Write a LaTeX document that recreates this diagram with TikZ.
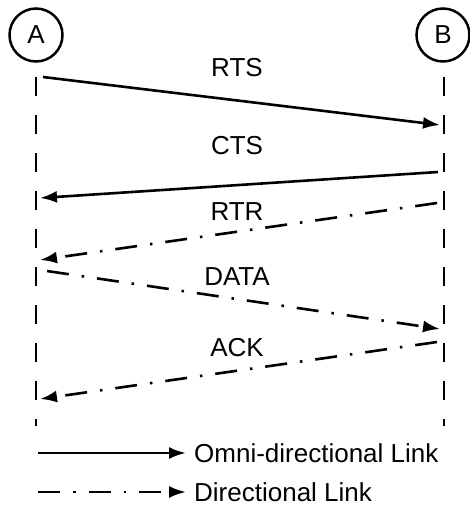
\documentclass[tikz,border=0pt]{standalone}
\usepackage{fontspec}
\setmainfont{Liberation Sans}
\usetikzlibrary{arrows.meta}
\begin{document}
\begin{tikzpicture}[x=1pt,y=-1pt,
  station/.style={draw,circle,line width=2.5pt,minimum size=53pt,inner sep=0pt,font=\fontsize{26}{26}\selectfont},
  lifeline/.style={line width=2.6pt,dash pattern=on 19pt off 19pt},
  omni/.style={line width=2.6pt,-{Latex[length=17pt,width=12pt]}},
  directional/.style={line width=2.6pt,-{Latex[length=17pt,width=12pt]},
    dash pattern=on 22pt off 13pt on 2.5pt off 13pt},
  msg/.style={font=\fontsize{26}{26}\selectfont,inner sep=0pt},
  legend/.style={font=\fontsize{26}{26}\selectfont,anchor=west,inner sep=0pt}]
  \useasboundingbox (0,0) rectangle (469,506);

  % stations
  \node[station] (A) at (36,35) {A};
  \node[station] (B) at (443,35) {B};

  % lifelines
  \coordinate (Atop) at (36,77);
  \coordinate (Abot) at (36,426);
  \coordinate (Btop) at (444,77);
  \coordinate (Bbot) at (444,426);
  \draw[lifeline] (Atop) -- (Abot);
  \draw[lifeline] (Btop) -- (Bbot);

  % message endpoints
  \coordinate (rtsS) at (43,77);   \coordinate (rtsE) at (440,125);
  \coordinate (ctsS) at (438,172); \coordinate (ctsE) at (40,198);
  \coordinate (rtrS) at (437,203); \coordinate (rtrE) at (40,260);
  \coordinate (datS) at (47,271);  \coordinate (datE) at (440,329);
  \coordinate (ackS) at (437,342); \coordinate (ackE) at (40,399);

  \draw[omni] (rtsS) -- (rtsE);
  \draw[omni] (ctsS) -- (ctsE);
  \draw[directional] (rtrS) -- (rtrE);
  \draw[directional] (datS) -- (datE);
  \draw[directional] (ackS) -- (ackE);

  % message labels
  \node[msg] (lrts) at (237,68) {RTS};
  \node[msg] (lcts) at (237,146) {CTS};
  \node[msg] (lrtr) at (237,212) {RTR};
  \node[msg] (ldat) at (237,277) {DATA};
  \node[msg] (lack) at (237,348) {ACK};

  % legend
  \coordinate (l1S) at (38,453); \coordinate (l1E) at (186,453);
  \coordinate (l2S) at (38,492); \coordinate (l2E) at (186,492);
  \draw[omni] (l1S) -- (l1E);
  \draw[directional] (l2S) -- (l2E);
  \node[legend] (t1) at (194,453) {Omni-directional Link};
  \node[legend] (t2) at (194,492) {Directional Link};
\end{tikzpicture}
\end{document}
